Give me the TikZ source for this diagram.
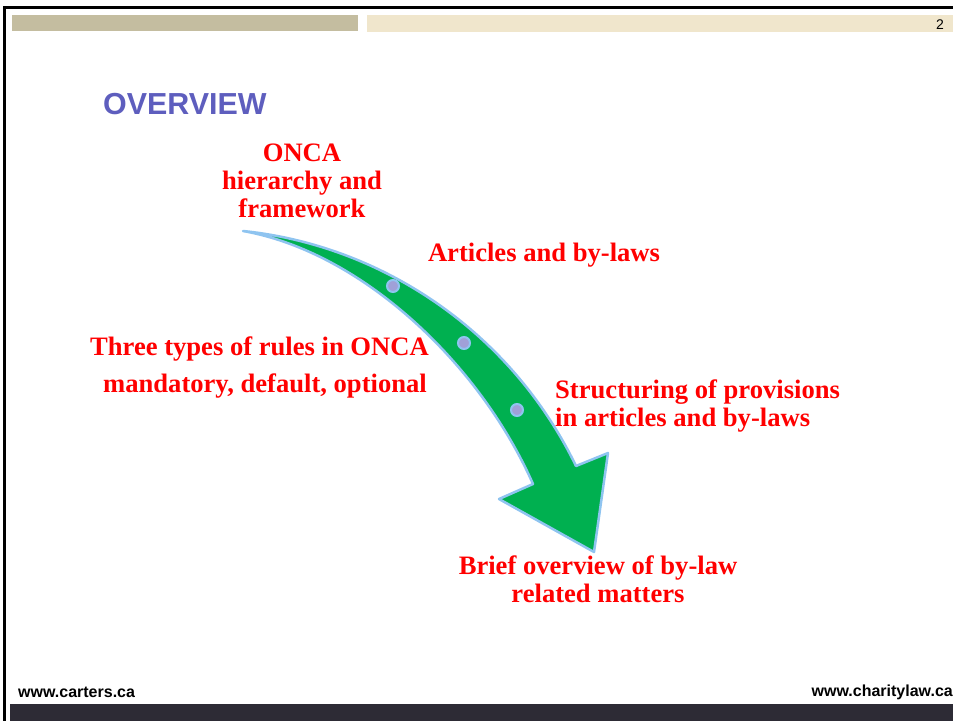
\documentclass[tikz,border=0pt]{standalone}
\usepackage{fontspec}
\usepackage{tikz}
\usepackage{xcolor}
\usetikzlibrary{positioning,calc}
\setmainfont{Liberation Serif}
\newfontfamily\arialfont{Liberation Sans}

\definecolor{barolive}{RGB}{196,189,160}
\definecolor{barcream}{RGB}{240,230,204}
\definecolor{titleblue}{RGB}{94,94,190}
\definecolor{arrowgreen}{RGB}{0,176,80}
\definecolor{arrowblue}{RGB}{143,196,240}
\definecolor{dotfill}{RGB}{160,160,216}
\definecolor{footerdark}{RGB}{45,43,53}

\begin{document}
\begin{tikzpicture}[x=1pt, y=-1pt,
    redtext/.style={text=red, inner sep=0pt, font=\bfseries\fontsize{26.6}{28}\selectfont},
    footertext/.style={inner sep=0pt, font=\arialfont\bfseries\fontsize{16}{18}\selectfont}]
    \useasboundingbox (0,0) rectangle (953,721);

    % Frame and header bars
    \fill[black] (3,6) rectangle (953,9);
    \fill[black] (3,6) rectangle (6,721);
    \fill[barolive] (12,14.5) rectangle (358,31);
    \fill[barcream] (367,14.5) rectangle (953,31.5);
    \node[inner sep=0pt, font=\arialfont\fontsize{14}{16}\selectfont] (pagenum) at (940,25) {2};

    % Footer
    \fill[footerdark] (10,704) rectangle (953,721);
    \node[footertext, anchor=west] (carters) at (18,692) {www.carters.ca};
    \node[footertext, anchor=east] (charity) at (953,692) {www.charitylaw.ca};

    % Title
    \node[inner sep=0pt, anchor=west, text=titleblue, font=\arialfont\bfseries\fontsize{30.4}{32}\selectfont] (title) at (103,104) {OVERVIEW};

    % Curved arrow
    \filldraw[fill=arrowgreen, draw=arrowblue, line width=2.5pt, line join=round]
        (243,231) .. controls (380,245) and (510,330) .. (576,466)
        -- (608,453) -- (594,552) -- (499,499) -- (533,484)
        .. controls (480,364) and (362,252) .. (243,231) -- cycle;
    \foreach \p in {(393,286),(464,343),(517,410)}
        \filldraw[fill=dotfill, draw=arrowblue, line width=2pt] \p circle (6pt);

    % Steps
    \node[redtext, align=center] (onca) at (302,181) {ONCA\\hierarchy and\\framework};
    \node[redtext] (articles) at (544,255) {Articles and by-laws};
    \node[redtext] (types) at (259.5,349) {Three types of rules in ONCA};
    \node[redtext] (kinds) at (265,386) {mandatory, default, optional};
    \node[redtext, align=left, anchor=west] (structuring) at (555,406) {Structuring of provisions\\in articles and by-laws};
    \node[redtext, align=center] (brief) at (598,579) {Brief overview of by-law\\related matters};
\end{tikzpicture}
\end{document}
